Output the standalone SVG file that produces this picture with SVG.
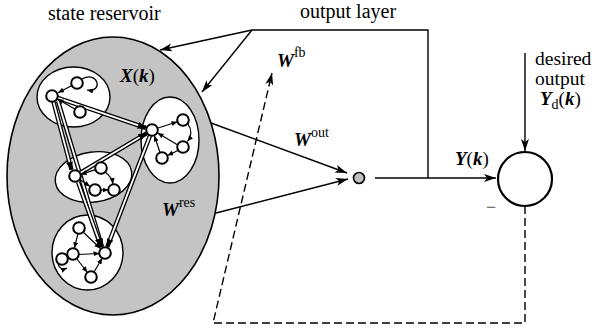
<svg xmlns="http://www.w3.org/2000/svg" width="595" height="332" viewBox="0 0 595 332">
<style>
  text { font-family: "Liberation Serif", "Times New Roman", serif; fill: #000; }
  .lbl { font-size: 20px; }
  .rl { font-size: 19.5px; }
  .mth { font-size: 19px; font-weight: bold; font-style: italic; }
  .sup { font-size: 14px; font-weight: normal; font-style: normal; }
  .ln { fill: none; stroke: #000; stroke-width: 1.4; }
  .dash { fill: none; stroke: #000; stroke-width: 1.4; stroke-dasharray: 8 4; }
  .node { fill: #fff; stroke: #000; stroke-width: 2; }
  .clu { fill: #fff; stroke: #000; stroke-width: 1.4; }
  .do { fill: none; stroke: #000; stroke-width: 4.4; }
  .di { fill: none; stroke: #fff; stroke-width: 1.8; }
  .dm { fill: none; stroke: none; }
  .sl { fill: none; stroke: #000; stroke-width: 1.2; }
</style>
<defs>
  <marker id="ah" markerUnits="userSpaceOnUse" markerWidth="13" markerHeight="9" refX="12" refY="4" orient="auto">
    <path d="M0,0 L12,4 L0,8 L3,4 z" fill="#000"/>
  </marker>
  <marker id="dh" markerUnits="userSpaceOnUse" markerWidth="9" markerHeight="8" refX="8" refY="3.5" orient="auto">
    <path d="M0,0 L8,3.5 L0,7 z" fill="#000"/>
  </marker>
  <marker id="sh" markerUnits="userSpaceOnUse" markerWidth="7" markerHeight="6" refX="6" refY="2.5" orient="auto">
    <path d="M0,0 L6,2.5 L0,5 z" fill="#000"/>
  </marker>
</defs>

<g id="reservoir">
  <ellipse cx="113" cy="176" rx="106" ry="139" fill="#c4c4c4" stroke="#000" stroke-width="1.6"/>
</g>

<g id="clusterA">
  <ellipse class="clu" cx="73.5" cy="97" rx="36.5" ry="30"/>
</g>
<g id="clusterB">
  <ellipse class="clu" cx="170" cy="140" rx="29" ry="43"/>
</g>
<g id="clusterC">
  <ellipse class="clu" cx="93.5" cy="177" rx="38.5" ry="25" transform="rotate(-8 93.5 177)"/>
</g>
<g id="clusterD">
  <ellipse class="clu" cx="87.5" cy="252.5" rx="35.5" ry="37.5"/>
</g>

<g id="reservoir-links">
  <path class="do" d="M57.7,97.9 L145.8,127.9"/>
  <path class="di" d="M57.7,97.9 L142,126.6"/>
  <path class="dm" d="M57.7,97.9 L145.8,127.9" marker-end="url(#dh)"/>

  <path class="do" d="M53.5,102 L71.5,169.8"/>
  <path class="di" d="M53.5,102 L70.5,166"/>
  <path class="dm" d="M53.5,102 L71.5,169.8" marker-end="url(#dh)"/>

  <path class="do" d="M58,101 L102,247"/>
  <path class="di" d="M58,101 L101,243.5"/>
  <path class="dm" d="M58,101 L102,247" marker-end="url(#dh)"/>

  <path class="do" d="M78,182 L101,246.5"/>
  <path class="di" d="M78,182 L99.8,243"/>
  <path class="dm" d="M78,182 L101,246.5" marker-end="url(#dh)"/>

  <path class="do" d="M150,135.6 L107.3,246.9"/>
  <path class="di" d="M150,135.6 L108.6,243.4"/>
  <path class="dm" d="M150,135.6 L107.3,246.9" marker-end="url(#dh)"/>

  <path class="do" d="M80.1,173 L146.4,133.3"/>
  <path class="di" d="M80.1,173 L143.2,135.2"/>
  <path class="dm" d="M80.1,173 L146.4,133.3" marker-end="url(#dh)"/>
</g>

<g id="cluster-arrows">
  <path class="sl" d="M72,85.5 L58,92.8" marker-end="url(#sh)"/>
  <path class="sl" d="M75.2,109.3 L57.5,99" marker-end="url(#sh)"/>
  <path class="sl" d="M82,79 C98,70 104,93 87,90" marker-end="url(#sh)"/>

  <path class="sl" d="M157.3,128.3 L177.5,121.8" marker-end="url(#sh)"/>
  <path class="sl" d="M188,124 Q194,133 187.5,141.5" marker-end="url(#sh)"/>
  <path class="sl" d="M177.8,145 L157.6,133" marker-end="url(#sh)"/>
  <path class="sl" d="M160,152.5 L154.3,135.5" marker-end="url(#sh)"/>
  <path class="sl" d="M178,150.5 L167.3,155.5" marker-end="url(#sh)"/>

  <path class="sl" d="M95.6,169.6 L80.6,174.4" marker-end="url(#sh)"/>
  <path class="sl" d="M105.5,172.5 Q112,177 113,184" marker-end="url(#sh)"/>
  <path class="sl" d="M80,179.5 L90,186.5" marker-end="url(#sh)"/>
  <path class="sl" d="M100.5,190 L108.5,190" marker-end="url(#sh)"/>

  <path class="sl" d="M78,233.5 L74.3,248.3" marker-end="url(#sh)"/>
  <path class="sl" d="M83,232 L100.5,248.5" marker-end="url(#sh)"/>
  <path class="sl" d="M78.5,254.5 L99.5,253.5" marker-end="url(#sh)"/>
  <path class="sl" d="M94,272 L102.3,258" marker-end="url(#sh)"/>
  <path class="sl" d="M76.5,258.5 L87.5,272.5" marker-end="url(#sh)"/>
  <path class="sl" d="M58,264 Q60,271 67,268" marker-end="url(#sh)"/>
</g>

<g id="nodesA">
  <circle class="node" cx="52" cy="96" r="5.8"/>
  <circle class="node" cx="77" cy="83" r="5.8"/>
  <circle class="node" cx="80" cy="112" r="5.8"/>
</g>
<g id="nodesB">
  <circle class="node" cx="152" cy="130" r="5.8"/>
  <circle class="node" cx="183" cy="120" r="5.8"/>
  <circle class="node" cx="183" cy="147" r="5.8"/>
  <circle class="node" cx="162" cy="158" r="5.8"/>
</g>
<g id="nodesC">
  <circle class="node" cx="75" cy="176" r="5.8"/>
  <circle class="node" cx="101" cy="168" r="5.8"/>
  <circle class="node" cx="95" cy="190" r="5.8"/>
  <circle class="node" cx="114" cy="190" r="5.8"/>
</g>
<g id="nodesD">
  <circle class="node" cx="79" cy="228" r="5.8"/>
  <circle class="node" cx="62" cy="259" r="5.8"/>
  <circle class="node" cx="73" cy="254" r="5.8"/>
  <circle class="node" cx="91" cy="277" r="5.8"/>
  <circle class="node" cx="105" cy="253" r="5.8"/>
</g>

<g id="output-node">
  <circle cx="359" cy="178" r="5.5" fill="#c0c0c0" stroke="#000" stroke-width="1.6"/>
</g>

<g id="comparator">
  <circle cx="525" cy="179" r="27" fill="#fff" stroke="#000" stroke-width="2.2"/>
</g>

<g id="connectors">
  <path class="ln" d="M252,30 H428 V178"/>
  <path class="ln" d="M252,30 L160,50" marker-end="url(#ah)"/>
  <path class="ln" d="M252,30 L202,92" marker-end="url(#ah)"/>
  <path class="ln" d="M211,123 L347,173" marker-end="url(#ah)"/>
  <path class="ln" d="M216,213 L348,179" marker-end="url(#ah)"/>
  <path class="ln" d="M375,178 L496,178" marker-end="url(#ah)"/>
  <path class="ln" d="M525,53 L525,151" marker-end="url(#ah)"/>
  <path class="dash" d="M525,206 V323 H213 L272,73" marker-end="url(#ah)"/>
</g>

<g id="labels">
  <text class="lbl" x="48" y="20">state reservoir</text>
  <text class="lbl" x="300" y="18">output layer</text>
  <text class="mth" x="120" y="82" font-size="20">X<tspan font-weight="normal" font-style="normal">(</tspan>k<tspan font-weight="normal" font-style="normal">)</tspan></text>
  <text class="mth" x="277" y="67">W<tspan class="sup" dy="-10">fb</tspan></text>
  <text class="mth" x="294" y="146">W<tspan class="sup" dy="-9">out</tspan></text>
  <text class="mth" x="162" y="216">W<tspan class="sup" dy="-9">res</tspan></text>
  <text class="mth" x="455" y="165">Y<tspan font-weight="normal" font-style="normal">(</tspan>k<tspan font-weight="normal" font-style="normal">)</tspan></text>
  <text class="rl" x="535" y="65">desired</text>
  <text class="rl" x="535" y="85">output</text>
  <text class="mth" x="540" y="105">Y<tspan class="sup" dy="4">d</tspan><tspan font-weight="normal" font-style="normal" dy="-4">(</tspan>k<tspan font-weight="normal" font-style="normal">)</tspan></text>
  <text x="486" y="213" font-size="18" style="fill:#555">−</text>
</g>
</svg>
